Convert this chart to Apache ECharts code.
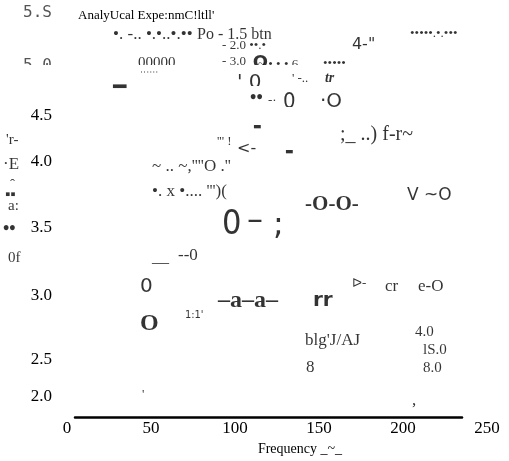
<!DOCTYPE html>
<html><head><meta charset="utf-8">
<script src="https://cdn.jsdelivr.net/npm/echarts@6/dist/echarts.min.js"></script>
<style>html,body{margin:0;padding:0;background:#fff}#c{width:509px;height:461px}</style>
</head><body><div id="c"></div>
<script>
// ---- data read from the (scanned) reference ----
const titleText = "AnalyUcal Expe:nmC!ltll'";
const xAxisName = "Frequency _~_";
const xTickValues = [0, 50, 100, 150, 200, 250];
const yTickValues = [2.0, 2.5, 3.0, 3.5, 4.0, 4.5, 5.0, 5.5];
const yTickLabels = ['2.0', '2.5', '3.0', '3.5', '4.0', '4.5', '5.0', '5.S'];

// text fragments left in the plot area by the scan (value coordinates)
const fragTexts = [
  "•. -.. •.•..•.••", "Po - 1.5 btn", "- 2.0 ••.•", "4-\"", "•••••.•.•••",
  "00000", "- 3.0", "O", "~ • • • 6", "•••••", "''''''", "━",
  "' 0", "' -..", "tr", "••", "-·", "0", "·O", "▬", "''' !", "<-", "▬",
  ";_ ..) f-r~", "~ .. ~,''''O .''", "•. x •.... ''')(", "0", "–", ";", "-O-O-",
  "V ~O", "__", "--0", "0", "ᐅ-", "cr", "e-O", "–a–a–", "rr", "O", "1:1'",
  "blg'J/AJ", "4.0", "lS.0", "8", "8.0", "'", ",",
  "'r-", "·E", "ˆ", "▪▪", "a:", "••", "0f"
];
const fragX = [
  27.4, 77.4, 92.3, 169.6, 204.2,
  42.3, 92.3, 110.5, 113.7, 152.4, 43.5, 27.4,
  101.2, 133.9, 153.5, 109.0, 119.6, 128.6, 150.6, 110.7, 89.3, 101.2, 129.8,
  162.5, 50.6, 50.6, 92.3, 107.1, 122.6, 141.7,
  202.4, 50.6, 66.1, 43.5, 169.6, 189.3, 208.9, 89.9, 146.4, 43.5, 70.2,
  141.7, 207.1, 211.9, 142.3, 211.9, 44.6, 205.4,
  -36.3, -38.1, -33.9, -36.9, -35.1, -38.1, -35.1
];
const fragY = [
  5.255, 5.255, 5.16, 5.16, 5.265,
  5.0, 5.01, 5.0, 4.99, 5.0, 4.889, 4.78,
  4.828, 4.86, 4.86, 4.69, 4.67, 4.65, 4.66, 4.435, 4.30, 4.24, 4.21,
  4.36, 4.08, 3.86, 3.56, 3.59, 3.56, 3.74,
  3.82, 3.27, 3.29, 3.017, 3.04, 3.013, 3.013, 2.89, 2.89, 2.68, 2.76,
  2.54, 2.61, 2.45, 2.295, 2.295, 2.053, 2.0,
  4.32, 4.10, 3.92, 3.83, 3.73, 3.52, 3.27
];
const fragKind = [
  'dotsBig', 'po', 'note', 'sans', 'note',
  'serif15', 'note', 'arc', 'note', 'note', 'marks', 'bar',
  'sansMid', 'note', 'boldItalic', 'boldDots', 'note', 'narrow', 'sansMid', 'barSmall', 'note', 'sans', 'barSmall',
  'serif20', 'serif16', 'serif16', 'bigNarrow', 'big', 'big', 'bold',
  'sans17', 'serif17', 'serif17', 'sansMid', 'note', 'serif16', 'serif16', 'boldA', 'sansBold', 'boldO', 'tinySans',
  'serif16', 'serif15', 'serif15', 'serif16', 'serif15', 'note', 'serif16',
  'side', 'side17', 'side', 'side', 'side', 'boldDots', 'side'
];

// nudges (px, + = down) for the scanned y tick labels
const yLabelNudge = [-4, 15, 7, -4, -14, -4, 3, 6];

// ---- styles ----
const SERIF = 'Liberation Serif';
const SANS = 'DejaVu Sans';
const NARROW = 'Liberation Sans Narrow, DejaVu Sans Condensed, Liberation Serif';
const kindStyle = {
  note: {fontFamily: SERIF, fontSize: 13},
  po: {fontFamily: SERIF, fontSize: 16},
  dotsBig: {fontFamily: SERIF, fontSize: 17},
  marks: {fontFamily: SANS, fontSize: 11, color: '#777'},
  sans: {fontFamily: SANS, fontSize: 16},
  sans17: {fontFamily: SANS, fontSize: 17},
  sansMid: {fontFamily: SANS, fontSize: 20},
  narrow: {fontFamily: NARROW, fontSize: 22},
  sansBold: {fontFamily: SANS, fontSize: 20, fontWeight: 'bold'},
  arc: {fontFamily: SANS, fontSize: 18, fontWeight: 'bold'},
  bar: {fontFamily: SANS, fontSize: 22, fontWeight: 'bold'},
  barSmall: {fontFamily: SANS, fontSize: 9, fontWeight: 'bold'},
  boldDots: {fontFamily: SERIF, fontSize: 18, fontWeight: 'bold'},
  boldItalic: {fontFamily: SERIF, fontSize: 14, fontWeight: 'bold', fontStyle: 'italic'},
  serif15: {fontFamily: SERIF, fontSize: 15},
  serif16: {fontFamily: SERIF, fontSize: 17},
  serif17: {fontFamily: SERIF, fontSize: 17},
  serif20: {fontFamily: SERIF, fontSize: 20},
  bigNarrow: {fontFamily: NARROW, fontSize: 34},
  big: {fontFamily: SANS, fontSize: 32},
  bold: {fontFamily: SERIF, fontSize: 21, fontWeight: 'bold'},
  boldA: {fontFamily: SERIF, fontSize: 24, fontWeight: 'bold'},
  boldO: {fontFamily: SERIF, fontSize: 24, fontWeight: 'bold'},
  tinySans: {fontFamily: NARROW, fontSize: 11},
  side: {fontFamily: SERIF, fontSize: 15},
  side17: {fontFamily: SERIF, fontSize: 17}
};

const chart = echarts.init(document.getElementById('c'), null, {renderer: 'canvas'});
const fragData = fragTexts.map((t, i) => ({
  value: [fragX[i], fragY[i]],
  label: Object.assign({color: '#000'}, kindStyle[fragKind[i]])
}));

const yRich = {};
yTickValues.forEach((v, i) => {
  const d = yLabelNudge[i];
  const base = v >= 4.99
    ? {fontFamily: 'DejaVu Sans Mono', fontSize: 16, color: '#555'}
    : {fontFamily: SERIF, fontSize: 17, color: '#000'};
  base.padding = d > 0 ? [2 * d, 0, 0, 0] : [0, 0, -2 * d, 0];
  yRich['k' + i] = base;
});

const option = {
  animation: false,
  backgroundColor: '#fff',
  title: {
    text: titleText, left: 73, top: 4,
    textStyle: {fontFamily: SERIF, fontSize: 13, fontWeight: 'normal', color: '#000'}
  },
  grid: [
    {left: 67, right: 22, top: 1.2, height: 418.3},
    {left: 75, right: 47, bottom: 44, height: 1}
  ],
  xAxis: [
    {
      type: 'value', gridIndex: 0, min: 0, max: 250, interval: 50,
      axisLine: {show: false}, axisTick: {show: false}, splitLine: {show: false},
      axisLabel: {margin: 8, fontFamily: SERIF, fontSize: 17, color: '#000',
        customValues: xTickValues},
      name: xAxisName, nameLocation: 'middle', nameGap: 28,
      nameTextStyle: {fontFamily: SERIF, fontSize: 14, color: '#000', padding: [0, 0, 0, 46]}
    },
    {
      type: 'value', gridIndex: 1, min: 0, max: 1,
      axisLine: {show: true, lineStyle: {color: '#000', width: 2.5}},
      axisTick: {show: false}, axisLabel: {show: false}, splitLine: {show: false}
    }
  ],
  yAxis: [
    {
      type: 'value', gridIndex: 0, min: 1.9, max: 5.55,
      axisLine: {show: false}, axisTick: {show: false}, splitLine: {show: false},
      axisLabel: {
        margin: 15, color: '#000', fontFamily: SERIF, fontSize: 17,
        customValues: yTickValues,
        formatter: v => {
          const i = yTickValues.findIndex(t => Math.abs(t - v) < 1e-6);
          return i >= 0 ? '{k' + i + '|' + yTickLabels[i] + '}' : '';
        },
        rich: yRich
      }
    },
    {type: 'value', gridIndex: 1, show: false}
  ],
  series: [{
    type: 'scatter', xAxisIndex: 0, yAxisIndex: 0,
    symbolSize: 0, clip: false, silent: true,
    data: fragData,
    label: {
      show: true, position: 'inside', align: 'left', verticalAlign: 'middle',
      formatter: p => fragTexts[p.dataIndex]
    }
  }],
  graphic: [
    {type: 'rect', z: 100, shape: {x: 0, y: 65, width: 509, height: 6}, style: {fill: '#fff'}},
    {type: 'rect', z: 100, shape: {x: 150, y: 86, width: 359, height: 5}, style: {fill: '#fff'}},
    {type: 'rect', z: 100, shape: {x: 150, y: 107, width: 359, height: 4}, style: {fill: '#fff'}},
    {type: 'rect', z: 100, shape: {x: 100, y: 292.5, width: 409, height: 2.5}, style: {fill: '#fff'}}
  ]
};
chart.setOption(option);
</script>
</body></html>
